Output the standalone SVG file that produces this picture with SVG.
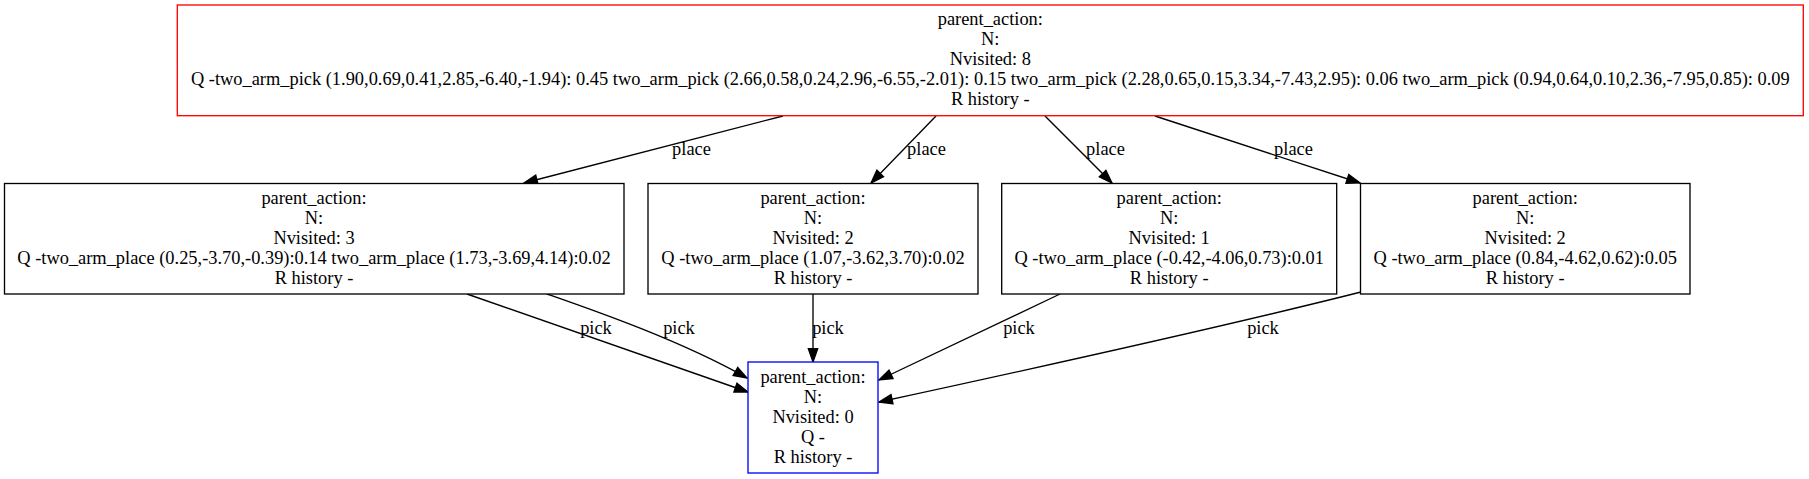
<svg xmlns="http://www.w3.org/2000/svg" width="1809" height="479" viewBox="0 0 1809 479">
<style>
text{font-family:"Liberation Serif","Times New Roman",serif;font-size:18.4px;fill:#000;text-anchor:middle}
.box{fill:#fff;stroke:#000;stroke-width:1.33}
.root{stroke:#ff0000}
.leaf{stroke:#0000ff}
.edge{fill:none;stroke:#000;stroke-width:1.33;marker-end:url(#arr)}
</style>
<defs>
<marker id="arr" markerUnits="userSpaceOnUse" markerWidth="16" markerHeight="12" refX="13.3" refY="5.5" orient="auto" overflow="visible">
<path d="M0,0.83 L13.3,5.5 L0,10.17 Z" fill="#000" stroke="#000" stroke-width="1.33"/>
</marker>
</defs>
<rect width="1809" height="479" fill="#fff"/>
<g id="connectors">
<path class="edge" d="M783,116 L524,183"/>
<path class="edge" d="M936,116 L871,183"/>
<path class="edge" d="M1045,116 L1112,183"/>
<path class="edge" d="M1155,116 L1360,183"/>
<path class="edge" d="M467,294 L748,392"/>
<path class="edge" d="M547,294 C590,309 680,340 747,378"/>
<path class="edge" d="M813,294 L813,362"/>
<path class="edge" d="M1060,294 L879,380"/>
<path class="edge" d="M1361,292 C1250,320 1050,365 879,402"/>
<text x="691.5" y="155">place</text>
<text x="926.5" y="155">place</text>
<text x="1105.5" y="155">place</text>
<text x="1293.5" y="155">place</text>
<text x="596" y="334">pick</text>
<text x="679" y="334">pick</text>
<text x="828" y="334">pick</text>
<text x="1019" y="334">pick</text>
<text x="1263" y="334">pick</text>
</g>
<g id="node_root">
<rect class="box root" x="177.3" y="5" width="1626" height="110.7"/>
<text x="990.3" y="25.4">parent_action:</text>
<text x="990.3" y="45.4">N:</text>
<text x="990.3" y="65.4">Nvisited: 8</text>
<text x="990.3" y="85.4">Q -two_arm_pick (1.90,0.69,0.41,2.85,-6.40,-1.94): 0.45 two_arm_pick (2.66,0.58,0.24,2.96,-6.55,-2.01): 0.15 two_arm_pick (2.28,0.65,0.15,3.34,-7.43,2.95): 0.06 two_arm_pick (0.94,0.64,0.10,2.36,-7.95,0.85): 0.09</text>
<text x="990.3" y="105.4">R history -</text>
</g>
<g id="node_a">
<rect class="box" x="4.5" y="183.5" width="619.5" height="110.5"/>
<text x="314" y="203.8">parent_action:</text>
<text x="314" y="223.8">N:</text>
<text x="314" y="243.8">Nvisited: 3</text>
<text x="314" y="263.8">Q -two_arm_place (0.25,-3.70,-0.39):0.14 two_arm_place (1.73,-3.69,4.14):0.02</text>
<text x="314" y="283.8">R history -</text>
</g>
<g id="node_b">
<rect class="box" x="648" y="183.5" width="330" height="110.5"/>
<text x="813" y="203.8">parent_action:</text>
<text x="813" y="223.8">N:</text>
<text x="813" y="243.8">Nvisited: 2</text>
<text x="813" y="263.8">Q -two_arm_place (1.07,-3.62,3.70):0.02</text>
<text x="813" y="283.8">R history -</text>
</g>
<g id="node_c">
<rect class="box" x="1001.7" y="183.5" width="335" height="110.5"/>
<text x="1169.2" y="203.8">parent_action:</text>
<text x="1169.2" y="223.8">N:</text>
<text x="1169.2" y="243.8">Nvisited: 1</text>
<text x="1169.2" y="263.8">Q -two_arm_place (-0.42,-4.06,0.73):0.01</text>
<text x="1169.2" y="283.8">R history -</text>
</g>
<g id="node_d">
<rect class="box" x="1360.5" y="183.5" width="329.5" height="110.5"/>
<text x="1525.2" y="203.8">parent_action:</text>
<text x="1525.2" y="223.8">N:</text>
<text x="1525.2" y="243.8">Nvisited: 2</text>
<text x="1525.2" y="263.8">Q -two_arm_place (0.84,-4.62,0.62):0.05</text>
<text x="1525.2" y="283.8">R history -</text>
</g>
<g id="node_e">
<rect class="box leaf" x="748" y="362" width="130" height="111"/>
<text x="813" y="382.6">parent_action:</text>
<text x="813" y="402.6">N:</text>
<text x="813" y="422.6">Nvisited: 0</text>
<text x="813" y="442.6">Q -</text>
<text x="813" y="462.6">R history -</text>
</g>
</svg>
